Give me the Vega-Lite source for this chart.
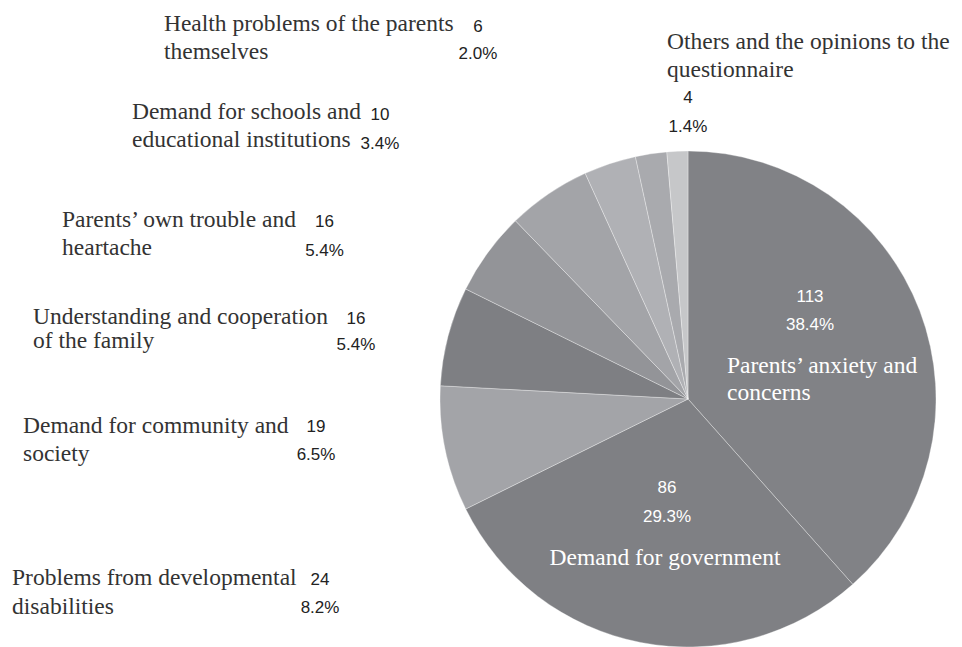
{
  "$schema": "https://vega.github.io/schema/vega-lite/v6.json",
  "autosize": "none",
  "width": 496,
  "height": 496,
  "padding": {"left": 440, "top": 151, "right": 26, "bottom": 0},
  "background": "white",
  "config": {"view": {"stroke": null}},
  "data": {
    "values": [
      {"key": "anxiety", "category": "Parents’ anxiety and concerns", "order": 1, "count": 113, "name": ["Parents’ anxiety and", "concerns"], "nums": ["113", "38.4%"]},
      {"key": "government", "category": "Demand for government", "order": 2, "count": 86, "name": ["Demand for government"], "nums": ["86", "29.3%"]},
      {"key": "developmental", "category": "Problems from developmental disabilities", "order": 3, "count": 24, "name": ["Problems from developmental", "disabilities"], "nums": ["24", "8.2%"]},
      {"key": "community", "category": "Demand for community and society", "order": 4, "count": 19, "name": ["Demand for community and", "society"], "nums": ["19", "6.5%"]},
      {"key": "family", "category": "Understanding and cooperation of the family", "order": 5, "count": 16, "name": ["Understanding and cooperation", "of the family"], "nums": ["16", "5.4%"]},
      {"key": "trouble", "category": "Parents’ own trouble and heartache", "order": 6, "count": 16, "name": ["Parents’ own trouble and", "heartache"], "nums": ["16", "5.4%"]},
      {"key": "schools", "category": "Demand for schools and educational institutions", "order": 7, "count": 10, "name": ["Demand for schools and", "educational institutions"], "nums": ["10", "3.4%"]},
      {"key": "health", "category": "Health problems of the parents themselves", "order": 8, "count": 6, "name": ["Health problems of the parents", "themselves"], "nums": ["6", "2.0%"]},
      {"key": "others", "category": "Others and the opinions  to the questionnaire", "order": 9, "count": 4, "name": ["Others and the opinions  to the", "questionnaire"], "nums": ["4", "1.4%"]}
    ]
  },
  "encoding": {
    "theta": {"field": "count", "type": "quantitative", "stack": true},
    "order": {"field": "order", "type": "quantitative"},
    "detail": {"field": "key", "type": "nominal"}
  },
  "layer": [
    {
      "mark": {"type": "arc", "stroke": "#ffffff", "strokeWidth": 0.6, "strokeOpacity": 0.55},
      "encoding": {
        "color": {
          "field": "key", "type": "nominal", "legend": null,
          "scale": {
            "domain": ["anxiety", "government", "developmental", "community", "family", "trouble", "schools", "health", "others"],
            "range": ["#818286", "#7f8084", "#a3a4a8", "#7e7f83", "#939498", "#a3a4a8", "#b0b1b5", "#a9aaae", "#c6c7c9"]
          }
        }
      }
    },
    {
      "mark": {"type": "text", "radius": 130, "align": "center", "baseline": "middle", "font": "Liberation Sans", "fontSize": 17, "lineHeight": 28, "color": "#ffffff", "dx": 0.5, "dy": -55.8},
      "encoding": {"text": {"condition": {"test": "datum.key === 'anxiety'", "field": "nums"}, "value": ""}}
    },
    {
      "mark": {"type": "text", "radius": 130, "align": "left", "baseline": "middle", "font": "Liberation Serif", "fontSize": 23.5, "lineHeight": 27, "color": "#ffffff", "dx": -82.5, "dy": 13.2},
      "encoding": {"text": {"condition": {"test": "datum.key === 'anxiety'", "field": "name"}, "value": ""}}
    },
    {
      "mark": {"type": "text", "radius": 130, "align": "center", "baseline": "middle", "font": "Liberation Sans", "fontSize": 17, "lineHeight": 29, "color": "#ffffff", "dx": 3.9, "dy": -38.6},
      "encoding": {"text": {"condition": {"test": "datum.key === 'government'", "field": "nums"}, "value": ""}}
    },
    {
      "mark": {"type": "text", "radius": 130, "align": "center", "baseline": "middle", "font": "Liberation Serif", "fontSize": 23.5, "lineHeight": 28, "color": "#ffffff", "dx": 1.9, "dy": 31.4},
      "encoding": {"text": {"condition": {"test": "datum.key === 'government'", "field": "name"}, "value": ""}}
    },
    {
      "mark": {"type": "text", "radius": 260, "align": "left", "baseline": "middle", "font": "Liberation Serif", "fontSize": 23.5, "lineHeight": 29, "color": "#333333", "dx": -421.3, "dy": 126.6},
      "encoding": {"text": {"condition": {"test": "datum.key === 'developmental'", "field": "name"}, "value": ""}}
    },
    {
      "mark": {"type": "text", "radius": 260, "align": "center", "baseline": "middle", "font": "Liberation Sans", "fontSize": 17, "lineHeight": 28, "color": "#222222", "dx": -113.3, "dy": 128.6},
      "encoding": {"text": {"condition": {"test": "datum.key === 'developmental'", "field": "nums"}, "value": ""}}
    },
    {
      "mark": {"type": "text", "radius": 260, "align": "left", "baseline": "middle", "font": "Liberation Serif", "fontSize": 23.5, "lineHeight": 28, "color": "#333333", "dx": -413.5, "dy": 92.9},
      "encoding": {"text": {"condition": {"test": "datum.key === 'community'", "field": "name"}, "value": ""}}
    },
    {
      "mark": {"type": "text", "radius": 260, "align": "center", "baseline": "middle", "font": "Liberation Sans", "fontSize": 17, "lineHeight": 28, "color": "#222222", "dx": -120.5, "dy": 93.9},
      "encoding": {"text": {"condition": {"test": "datum.key === 'community'", "field": "nums"}, "value": ""}}
    },
    {
      "mark": {"type": "text", "radius": 260, "align": "left", "baseline": "middle", "font": "Liberation Serif", "fontSize": 23.5, "lineHeight": 24, "color": "#333333", "dx": -445, "dy": 71.3},
      "encoding": {"text": {"condition": {"test": "datum.key === 'family'", "field": "name"}, "value": ""}}
    },
    {
      "mark": {"type": "text", "radius": 260, "align": "center", "baseline": "middle", "font": "Liberation Sans", "fontSize": 17, "lineHeight": 26, "color": "#222222", "dx": -122, "dy": 73.3},
      "encoding": {"text": {"condition": {"test": "datum.key === 'family'", "field": "nums"}, "value": ""}}
    },
    {
      "mark": {"type": "text", "radius": 260, "align": "left", "baseline": "middle", "font": "Liberation Serif", "fontSize": 23.5, "lineHeight": 28, "color": "#333333", "dx": -479.5, "dy": 35.8},
      "encoding": {"text": {"condition": {"test": "datum.key === 'trouble'", "field": "name"}, "value": ""}}
    },
    {
      "mark": {"type": "text", "radius": 260, "align": "center", "baseline": "middle", "font": "Liberation Sans", "fontSize": 17, "lineHeight": 29, "color": "#222222", "dx": -217, "dy": 37.8},
      "encoding": {"text": {"condition": {"test": "datum.key === 'trouble'", "field": "nums"}, "value": ""}}
    },
    {
      "mark": {"type": "text", "radius": 260, "align": "left", "baseline": "middle", "font": "Liberation Serif", "fontSize": 23.5, "lineHeight": 28, "color": "#333333", "dx": -474.1, "dy": -40.2},
      "encoding": {"text": {"condition": {"test": "datum.key === 'schools'", "field": "name"}, "value": ""}}
    },
    {
      "mark": {"type": "text", "radius": 260, "align": "center", "baseline": "middle", "font": "Liberation Sans", "fontSize": 17, "lineHeight": 29, "color": "#222222", "dx": -226.1, "dy": -37.2},
      "encoding": {"text": {"condition": {"test": "datum.key === 'schools'", "field": "nums"}, "value": ""}}
    },
    {
      "mark": {"type": "text", "radius": 260, "align": "left", "baseline": "middle", "font": "Liberation Serif", "fontSize": 23.5, "lineHeight": 28, "color": "#333333", "dx": -485.3, "dy": -117.9},
      "encoding": {"text": {"condition": {"test": "datum.key === 'health'", "field": "name"}, "value": ""}}
    },
    {
      "mark": {"type": "text", "radius": 260, "align": "center", "baseline": "middle", "font": "Liberation Sans", "fontSize": 17, "lineHeight": 27, "color": "#222222", "dx": -171.3, "dy": -114.9},
      "encoding": {"text": {"condition": {"test": "datum.key === 'health'", "field": "nums"}, "value": ""}}
    },
    {
      "mark": {"type": "text", "radius": 260, "align": "left", "baseline": "middle", "font": "Liberation Serif", "fontSize": 23.5, "lineHeight": 28, "color": "#333333", "dx": -9.9, "dy": -97.2},
      "encoding": {"text": {"condition": {"test": "datum.key === 'others'", "field": "name"}, "value": ""}}
    },
    {
      "mark": {"type": "text", "radius": 260, "align": "center", "baseline": "middle", "font": "Liberation Sans", "fontSize": 17, "lineHeight": 29, "color": "#222222", "dx": 11.1, "dy": -41.2},
      "encoding": {"text": {"condition": {"test": "datum.key === 'others'", "field": "nums"}, "value": ""}}
    }
  ]
}
